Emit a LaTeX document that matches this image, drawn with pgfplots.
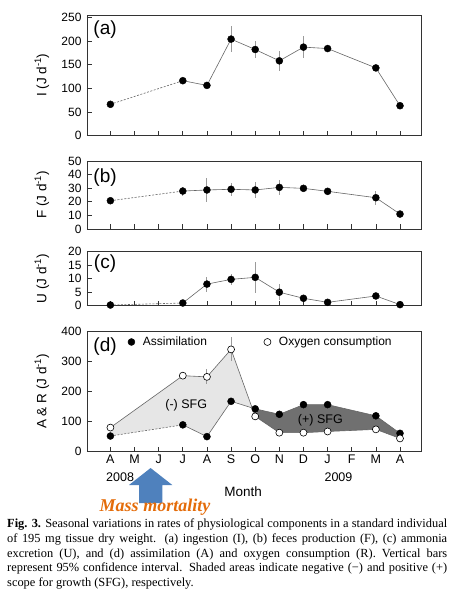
\documentclass[border=0pt]{standalone}
\usepackage{fontspec}
\setmainfont{Liberation Sans}
\newfontfamily\capfont{Liberation Serif}
\usepackage{pgfplots}
\pgfplotsset{compat=1.18}
\definecolor{linegray}{HTML}{666666}
\definecolor{ebgray}{HTML}{9A9A9A}
\definecolor{lightfill}{HTML}{E6E6E6}
\definecolor{darkfill}{HTML}{707070}
\definecolor{arrowblue}{HTML}{4F81BD}
\definecolor{mortorange}{HTML}{E46C0A}
\tikzset{plab/.style={anchor=center, font=\fontsize{19}{20}\selectfont}}
\pgfplotsset{
  panel/.style={
    scale only axis, width=334pt,
    xmin=-0.97, xmax=12.87,
    xtick={0,...,12}, xticklabels={},
    tick align=inside, xtick pos=bottom, ytick pos=left,
    major tick length=5pt,
    axis line style={black!80, line width=0.7pt},
    every tick/.style={black!80, line width=0.7pt},
    yticklabel style={font=\fontsize{12}{12}\selectfont, xshift=-2pt},
    xticklabel style={font=\fontsize{12.5}{13}\selectfont},
    /pgf/number format/assume math mode=true,
    every axis y label/.style={at={(axis description cs:-0.135,0.5)}, rotate=90, anchor=center, font=\fontsize{13.5}{14}\selectfont},
    clip=false,
  },
  ln/.style={linegray, line width=0.6pt},
  dln/.style={linegray, line width=0.6pt, dash pattern=on 2pt off 1.5pt},
  fm/.style={only marks, mark=*, mark size=3.5pt, mark options={draw=black, fill=black}},
  om/.style={only marks, mark=*, mark size=3.5pt, mark options={draw=black, fill=white, line width=0.6pt}},
  eb/.style={only marks, mark=none, error bars/.cd, y dir=both, y explicit, error mark=none, error bar style={ebgray, line width=0.9pt}, /pgfplots/.cd},
}
\begin{document}
\begin{tikzpicture}
\useasboundingbox (0,0) rectangle (457pt,-605pt);

% (a) ingestion
\begin{axis}[panel, at={(87pt,-135.5pt)}, anchor=south west, height=120.5pt,
  ymin=0, ymax=255, ytick={0,50,...,250}, ylabel={I (J d\textsuperscript{-1})}]
\addplot[eb] coordinates {(5,204) +- (0,27) (6,182) +- (0,18.5) (7,158) +- (0,21.5) (8,187) +- (0,24)};
\addplot[dln] coordinates {(0,66) (3,116)};
\addplot[ln] coordinates {(3,116) (4,106) (5,204) (6,182) (7,158) (8,187) (9,184) (11,143) (12,63)};
\addplot[fm] coordinates {(0,66) (3,116) (4,106) (5,204) (6,182) (7,158) (8,187) (9,184) (11,143) (12,63)};
\node[plab] at (axis description cs:0.054,0.876) {(a)};
\end{axis}

% (b) feces
\begin{axis}[panel, at={(87pt,-229pt)}, anchor=south west, height=68pt,
  ymin=0, ymax=50, ytick={0,10,...,50}, ylabel={F (J d\textsuperscript{-1})}]
\addplot[eb] coordinates {(3,27.9) +- (0,3.3) (4,28.7) +- (0,8.5) (5,29.2) +- (0,4.6) (6,28.7) +- (0,5.9) (7,30.6) +- (0,5.7) (8,29.9) +- (0,2.2) (11,23) +- (0,5.3)};
\addplot[dln] coordinates {(0,20.8) (3,27.9)};
\addplot[ln] coordinates {(3,27.9) (4,28.7) (5,29.2) (6,28.7) (7,30.6) (8,29.9) (9,27.7) (11,23) (12,11)};
\addplot[fm] coordinates {(0,20.8) (3,27.9) (4,28.7) (5,29.2) (6,28.7) (7,30.6) (8,29.9) (9,27.7) (11,23) (12,11)};
\node[plab] at (axis description cs:0.054,0.75) {(b)};
\end{axis}

% (c) ammonia
\begin{axis}[panel, at={(87pt,-305.7pt)}, anchor=south west, height=54pt,
  ymin=0, ymax=20, ytick={0,5,...,20}, ylabel={U (J d\textsuperscript{-1})}]
\addplot[eb] coordinates {(4,8) +- (0,2.8) (5,9.75) +- (0,2.1) (6,10.5) +- (0,5.8) (7,5) +- (0,3) (8,2.75) +- (0,0.8) (11,3.6) +- (0,1.1)};
\addplot[dln] coordinates {(0,0.25) (3,1)};
\addplot[ln] coordinates {(3,1) (4,8) (5,9.75) (6,10.5) (7,5) (8,2.75) (9,1.25) (11,3.6) (12,0.4)};
\addplot[fm] coordinates {(0,0.25) (3,1) (4,8) (5,9.75) (6,10.5) (7,5) (8,2.75) (9,1.25) (11,3.6) (12,0.4)};
\node[plab] at (axis description cs:0.054,0.772) {(c)};
\end{axis}

% (d) assimilation & oxygen consumption
\begin{axis}[panel, at={(87pt,-451.7pt)}, anchor=south west, height=120.7pt,
  ymin=0, ymax=400, ytick={0,100,...,400}, ylabel={A \& R (J d\textsuperscript{-1})},
  xticklabels={A,M,J,J,A,S,O,N,D,J,F,M,A},
  legend columns=2,
  legend style={draw=none, fill=none, at={(axis description cs:0.113,0.909)}, anchor=west,
    font=\fontsize{12}{14}\selectfont,
    /tikz/every odd column/.append style={column sep=6pt},
    /tikz/every even column/.append style={column sep=55pt}},
  ]
\addplot[forget plot, fill=lightfill, draw=none] coordinates {(0,80) (3,252) (4,248) (5,339) (5.873,145.2) (5,167) (4,50) (3,89) (0,52)} -- cycle;
\addplot[forget plot, fill=darkfill, draw=none] coordinates {(5.873,145.2) (6,142) (7,124) (8,156) (9,156) (11,119) (12,61) (12,44) (11,74) (9,67) (8,63) (7,63) (6,117)} -- cycle;
\addplot[forget plot, ln] coordinates {(0,80) (3,252) (4,248) (5,339) (6,117) (7,63) (8,63) (9,67) (11,74) (12,44)};
\addplot[forget plot, dln] coordinates {(0,52) (3,89)};
\addplot[forget plot, ln] coordinates {(3,89) (4,50) (5,167) (6,142) (7,124) (8,156) (9,156) (11,119) (12,61)};
\addplot[forget plot, eb] coordinates {(3,252) +- (0,11) (4,248) +- (0,25) (5,339) +- (0,40)};
\addplot[forget plot, fm] coordinates {(0,52) (3,89) (4,50) (5,167) (6,142) (7,124) (8,156) (9,156) (11,119) (12,61)};
\addplot[forget plot, om] coordinates {(0,80) (3,252) (4,248) (5,339) (6,117) (7,63) (8,63) (9,67) (11,74) (12,44)};
\addlegendimage{fm}
\addlegendentry{Assimilation}
\addlegendimage{om}
\addlegendentry{Oxygen consumption}
\node[plab] at (axis description cs:0.054,0.867) {(d)};
\node[font=\fontsize{12.5}{14}\selectfont] at (axis cs:3.14,155) {(-) SFG};
\node[font=\fontsize{12.5}{14}\selectfont] at (axis cs:8.7,105) {(+) SFG};
\node[font=\fontsize{12.5}{14}\selectfont] at (axis cs:0.4,-83) {2008};
\node[font=\fontsize{12.5}{14}\selectfont] at (axis cs:9.45,-83) {2009};
\node[font=\fontsize{13.5}{15}\selectfont] at (axis cs:5.5,-133) {Month};
\end{axis}

% mass mortality arrow
\fill[arrowblue] (139pt,-503pt) -- (139pt,-485pt) -- (129pt,-485pt) -- (150.6pt,-468pt) -- (172.3pt,-485pt) -- (162.3pt,-485pt) -- (162.3pt,-503pt) -- cycle;
\node[font=\capfont\bfseries\itshape\fontsize{18}{20}\selectfont, text=mortorange, inner sep=0] at (155pt,-507pt) {Mass mortality};

% caption
\node[anchor=north west, inner sep=0, text width=440pt, align=justify, font=\capfont\fontsize{12.4}{14.8}\selectfont] at (7pt,-518.5pt)
{\textbf{Fig. 3.} Seasonal variations in rates of physiological components in a standard individual\linebreak
of 195 mg tissue dry weight. (a) ingestion (I), (b) feces production (F), (c) ammonia\linebreak
excretion (U), and (d) assimilation (A) and oxygen consumption (R). Vertical bars\linebreak
represent 95\% confidence interval. Shaded areas indicate negative (−) and positive (+)\linebreak
scope for growth (SFG), respectively.};
\end{tikzpicture}
\end{document}
